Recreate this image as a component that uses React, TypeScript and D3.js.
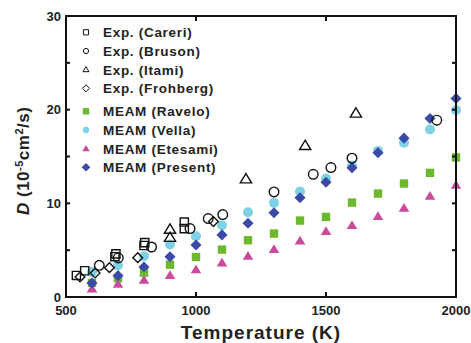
import React from "react";
import * as d3 from "d3";

const temps = [600, 700, 800, 900, 1000, 1100, 1200, 1300, 1400, 1500, 1600, 1700, 1800, 1900, 2000];
const ravelo = [1.5, 2.0, 2.6, 3.45, 4.27, 5.06, 6.06, 6.77, 8.16, 8.55, 10.08, 11.04, 12.11, 13.25, 14.9];
const vella = [2.67, 3.38, 4.35, 5.6, 6.48, 7.66, 9.05, 10.05, 11.26, 12.65, 14.0, 15.6, 16.46, 17.88, 19.95];
const etesami = [0.85, 1.35, 1.78, 2.3, 2.92, 3.63, 4.35, 5.06, 5.98, 7.0, 7.62, 8.6, 9.48, 10.76, 11.93];
const present = [1.5, 2.28, 3.2, 4.3, 5.56, 6.63, 7.87, 9.0, 10.6, 12.25, 13.8, 15.4, 16.96, 19.06, 21.2];

const careriT = [540, 572, 688, 692, 800, 803, 955, 955];
const careriD = [2.3, 2.8, 4.3, 4.6, 5.5, 5.8, 7.3, 8.0];
const brusonT = [628, 701, 829, 977, 1047, 1103, 1300, 1451, 1519, 1600, 1926];
const brusonD = [3.38, 4.17, 5.34, 7.3, 8.37, 8.8, 11.22, 13.1, 13.82, 14.82, 18.88];
const itamiT = [900, 900, 1192, 1420, 1615];
const itamiD = [6.34, 7.2, 12.58, 16.14, 19.6];
const frohbergT = [554, 612, 667, 776, 1067];
const frohbergD = [2.14, 2.56, 3.13, 4.2, 8.05];

const xTicks = [500, 1000, 1500, 2000];
const yTicks = [0, 10, 20, 30];
const yMinor = [5, 15, 25];

const GREEN = "#6cb92f";
const CYAN = "#7fd1e6";
const MAGENTA = "#cc4a9c";
const BLUE = "#3b4aa6";

type Shape = "square" | "circle" | "triangle" | "diamond";

function shapePath(shape: Shape, x: number, y: number, r: number): string {
  if (shape === "square") {
    return `M${x - r},${y - r}H${x + r}V${y + r}H${x - r}Z`;
  }
  if (shape === "diamond") {
    const d = r * 1.35;
    return `M${x},${y - d}L${x + d},${y}L${x},${y + d}L${x - d},${y}Z`;
  }
  if (shape === "triangle") {
    const h = r * 1.9;
    const w = r * 1.15;
    return `M${x},${y - h * 0.6}L${x + w},${y + h * 0.4}L${x - w},${y + h * 0.4}Z`;
  }
  return `M${x - r},${y}A${r},${r} 0 1,0 ${x + r},${y}A${r},${r} 0 1,0 ${x - r},${y}Z`;
}

const L = 66, R = 456, T = 16, B = 297;

export default function App() {
  const x = d3.scaleLinear().domain([500, 2000]).range([L, R]);
  const y = d3.scaleLinear().domain([0, 30]).range([B, T]);

  const filled = [
    { name: "MEAM (Ravelo)", shape: "square" as Shape, color: GREEN, vals: ravelo, r: 4.2 },
    { name: "MEAM (Vella)", shape: "circle" as Shape, color: CYAN, vals: vella, r: 5.0 },
    { name: "MEAM (Etesami)", shape: "triangle" as Shape, color: MAGENTA, vals: etesami, r: 4.6 },
    { name: "MEAM (Present)", shape: "diamond" as Shape, color: BLUE, vals: present, r: 4.1 },
  ];
  const open = [
    { name: "Exp. (Careri)", shape: "square" as Shape, ts: careriT, ds: careriD, r: 4.1 },
    { name: "Exp. (Bruson)", shape: "circle" as Shape, ts: brusonT, ds: brusonD, r: 4.8 },
    { name: "Exp. (Itami)", shape: "triangle" as Shape, ts: itamiT, ds: itamiD, r: 4.9 },
    { name: "Exp. (Frohberg)", shape: "diamond" as Shape, ts: frohbergT, ds: frohbergD, r: 3.6 },
  ];

  const legendRowsOpen = [32.3, 51, 69.7, 88.3];
  const legendRowsFilled = [111.3, 130, 148.7, 167.3];
  const font = "'Liberation Sans', Arial, sans-serif";

  return (
    <svg width={471} height={343} style={{ position: "absolute", left: 0, top: 0 }} fontFamily={font}>
      <rect width={471} height={343} fill="#fff" />
      {[0, 2, 1, 3].map((i) => {
        const s = filled[i];
        return (
          <g key={s.name}>
            {s.vals.map((v, j) => (
              <path key={j} d={shapePath(s.shape, x(temps[j]), y(v), s.r)} fill={s.color} />
            ))}
          </g>
        );
      })}
      {open.map((s) => (
        <g key={s.name}>
          {s.ts.map((t, j) => (
            <path key={j} d={shapePath(s.shape, x(t), y(s.ds[j]), s.r)} fill="none" stroke="#111" strokeWidth={1.4} />
          ))}
        </g>
      ))}
      <rect x={L} y={T} width={R - L} height={B - T} fill="none" stroke="#111" strokeWidth={2} />
      {xTicks.slice(1, -1).map((t) => (
        <g key={t}>
          <line x1={x(t)} x2={x(t)} y1={B} y2={B - 5} stroke="#111" strokeWidth={2} />
          <line x1={x(t)} x2={x(t)} y1={T} y2={T + 5} stroke="#111" strokeWidth={2} />
        </g>
      ))}
      {[...yTicks.slice(1, -1), ...yMinor].map((t) => (
        <g key={t}>
          <line x1={L} x2={L + 4} y1={y(t)} y2={y(t)} stroke="#111" strokeWidth={2} />
          <line x1={R} x2={R - 4} y1={y(t)} y2={y(t)} stroke="#111" strokeWidth={2} />
        </g>
      ))}
      {xTicks.map((t) => (
        <text key={t} x={x(t)} y={315} textAnchor="middle" fontSize={13} fontWeight="bold" fill="#222">
          {t}
        </text>
      ))}
      {yTicks.map((t) => (
        <text key={t} x={61} y={y(t) + 4.5} textAnchor="end" fontSize={13} fontWeight="bold" fill="#222">
          {t}
        </text>
      ))}
      <text x={261} y={339} textAnchor="middle" fontSize={19} fontWeight="bold" fill="#222" letterSpacing={1}>
        Temperature (K)
      </text>
      <text transform="translate(29,215) rotate(-90)" textAnchor="start" fontSize={17} fontWeight="bold" fill="#222" letterSpacing={0.5}>
        <tspan fontStyle="italic">D</tspan>
        <tspan> (10</tspan>
        <tspan baselineShift="super" fontSize={11}>-5</tspan>
        <tspan>cm</tspan>
        <tspan baselineShift="super" fontSize={11}>2</tspan>
        <tspan>/s)</tspan>
      </text>
      {open.map((s, i) => (
        <g key={s.name}>
          <path d={shapePath(s.shape, 86, legendRowsOpen[i], 2.6)} fill="none" stroke="#111" strokeWidth={1} />
          <text x={103} y={legendRowsOpen[i] + 4.8} fontSize={13.5} fontWeight="bold" fill="#222" letterSpacing={0.7}>
            {s.name}
          </text>
        </g>
      ))}
      {filled.map((s, i) => (
        <g key={s.name}>
          <path d={shapePath(s.shape, 86, legendRowsFilled[i], 3.2)} fill={s.color} />
          <text x={103} y={legendRowsFilled[i] + 4.8} fontSize={13.5} fontWeight="bold" fill="#222" letterSpacing={0.7}>
            {s.name}
          </text>
        </g>
      ))}
    </svg>
  );
}
